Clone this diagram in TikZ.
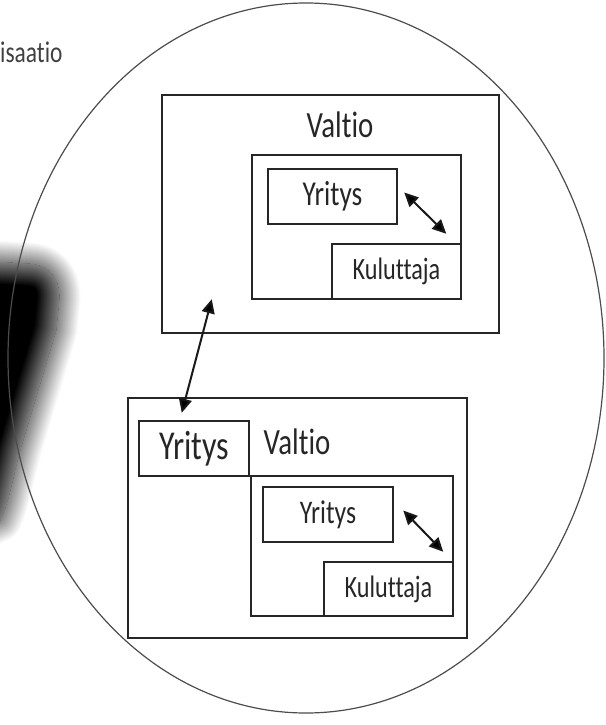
\documentclass[tikz,border=0pt]{standalone}
\usepackage{fontspec}
\setmainfont{Carlito}[FakeStretch=0.78, Ligatures=NoCommon]
\usepackage{tikz}
\usetikzlibrary{arrows.meta, calc, shadows.blur}

\begin{document}
\begin{tikzpicture}[%
    x=1pt, y=-1pt,
    box/.style={
      draw=black!85,
      line width=2.5pt,
      rectangle,
      inner sep=0,
      text=black!85
    },
    link/.style={
      line width=2pt,
      color=black!90,
      {Triangle[length=14pt,width=13pt,fill=black]}-{Triangle[length=14pt,width=13pt,fill=black]}
    }]
    \useasboundingbox (0,0) rectangle (605,725);
    \clip (0,0) rectangle (605,725);
    \tikzset{TitleStyle/.style = {text=black!85, inner sep=0, font=\fontsize{37}{40}\selectfont}}

    % smudge on the left
    \path[blur shadow={shadow xshift=0pt, shadow yshift=0pt, shadow blur radius=22pt,
        shadow blur steps=30, shadow opacity=100}]
        (-40,260) -- (30,264) .. controls (52,266) and (60,282) .. (59,300)
        -- (56,330) -- (20,450) .. controls (12,480) and (8,505) .. (0,520)
        -- (-40,540) -- cycle;

    \draw[black!70, line width=1.2pt] (306,358) ellipse [x radius=298, y radius=355];
    \node[anchor=base west, inner sep=0, text=black!75, font=\fontsize{30}{32}\selectfont]
        at (0,63) (org) {isaatio};

    % upper state
    \node[box, minimum width=337, minimum height=238] at (330.5,214) (valtioA) {};
    \node[TitleStyle] at (340,125) (valtioAtext) {Valtio};
    \node[box, minimum width=209, minimum height=144] at (356.5,227) (sisaA) {};
    \node[box, minimum width=129, minimum height=55, font=\fontsize{35}{38}\selectfont]
        at (332.5,196.5) (yritysA) {Yritys};
    \node[box, minimum width=129, minimum height=55, font=\fontsize{31}{34}\selectfont]
        at (396.5,271.5) (kuluttajaA) {Kuluttaja};

    % lower state
    \node[box, minimum width=339, minimum height=240] at (297.5,518) (valtioB) {};
    \node[TitleStyle] at (297,442) (valtioBtext) {Valtio};
    \node[box, minimum width=110, minimum height=55, font=\fontsize{41}{44}\selectfont]
        at (194,448.5) (yritysC) {Yritys};
    \node[box, minimum width=202, minimum height=140] at (352,546) (sisaB) {};
    \node[box, minimum width=130, minimum height=55, font=\fontsize{33}{36}\selectfont]
        at (328,514.5) (yritysB) {Yritys};
    \node[box, minimum width=129, minimum height=54, font=\fontsize{31}{34}\selectfont]
        at (388.5,589) (kuluttajaB) {Kuluttaja};

    \coordinate (a1) at ($(yritysA.east)+(6,-4)$);
    \coordinate (a2) at ($(kuluttajaA.north east)+(-16,-9)$);
    \coordinate (b1) at ($(yritysB.east)+(9,-4)$);
    \coordinate (b2) at ($(kuluttajaB.north east)+(-11,-9)$);
    \coordinate (c1) at ($(valtioA.south west)+(51,-35)$);
    \coordinate (c2) at ($(yritysC.north west)+(44,-7)$);

    \path[link]
        (a1) edge (a2)
        (b1) edge (b2)
        (c1) edge (c2)
        ;
\end{tikzpicture}
\end{document}
